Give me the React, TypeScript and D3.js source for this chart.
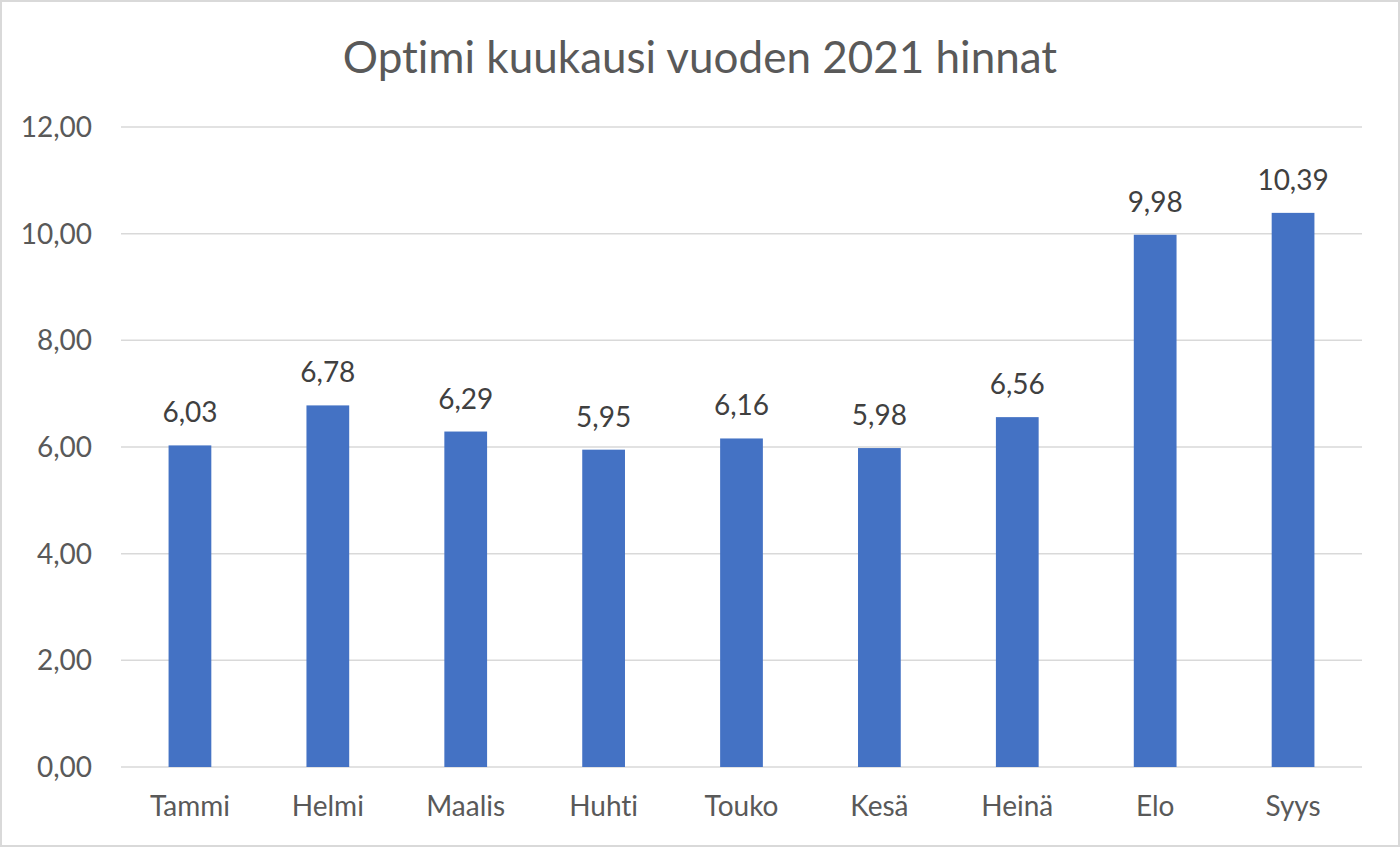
import React from "react";
import * as d3 from "d3";

const months = ["Tammi", "Helmi", "Maalis", "Huhti", "Touko", "Kesä", "Heinä", "Elo", "Syys"];
const prices = [6.03, 6.78, 6.29, 5.95, 6.16, 5.98, 6.56, 9.98, 10.39];
const yTicks = [0, 2, 4, 6, 8, 10, 12];
const title = "Optimi kuukausi vuoden 2021 hinnat";

const W = 1400;
const H = 847;
const M = { left: 121, right: 1362, top: 127, bottom: 767 };
const FONT = "Lato, 'Open Sans', sans-serif";
const NOLIG = { fontVariantLigatures: "none", fontFeatureSettings: "'liga' 0, 'dlig' 0" } as React.CSSProperties;
const fmt = (v: number) => v.toFixed(2).replace(".", ",");

export default function App() {
  const x = d3.scaleBand<string>().domain(months).range([M.left, M.right]).paddingInner(0.69).paddingOuter(0.345);
  const y = d3.scaleLinear().domain([0, 12]).range([M.bottom, M.top]);
  return (
    <svg width={W} height={H} style={{ position: "fixed", left: 0, top: 0, background: "#fff", ...NOLIG }}>
      <rect x={1} y={1} width={W - 2} height={H - 2} fill="#fff" stroke="#d9d9d9" strokeWidth={2} />
      <text x={700} y={73} textAnchor="middle" fontFamily={FONT} fontSize={44} fill="#595959" style={NOLIG}>{title}</text>
      {yTicks.map((t) => (
        <g key={t}>
          <line x1={M.left} x2={M.right} y1={y(t)} y2={y(t)} stroke="#d9d9d9" strokeWidth={1.5} />
          <text x={92} y={y(t) + 10} textAnchor="end" fontFamily={FONT} fontSize={28} fill="#595959">{fmt(t)}</text>
        </g>
      ))}
      {months.map((m, i) => (
        <g key={m}>
          <rect x={x(m)} y={y(prices[i])} width={x.bandwidth()} height={y(0) - y(prices[i])} fill="#4472c4" />
          <text x={(x(m) as number) + x.bandwidth() / 2} y={y(prices[i]) - 23} textAnchor="middle" fontFamily={FONT} fontSize={28} fill="#404040">{fmt(prices[i])}</text>
          <text x={(x(m) as number) + x.bandwidth() / 2} y={816} textAnchor="middle" fontFamily={FONT} fontSize={28} fill="#595959" style={NOLIG}>{m}</text>
        </g>
      ))}
    </svg>
  );
}
